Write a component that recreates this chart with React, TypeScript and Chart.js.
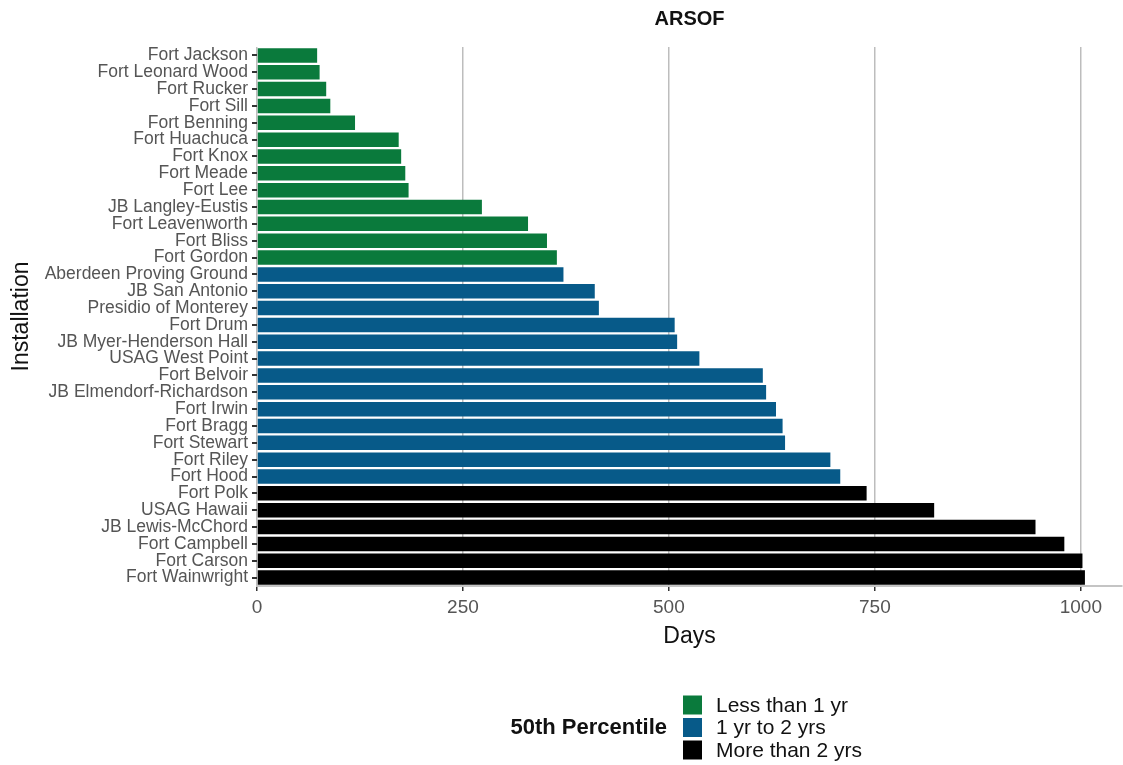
import React, { useEffect, useRef } from "react";
import { Chart, registerables } from "chart.js";

Chart.register(...registerables);

const categories = [
  "Fort Jackson", "Fort Leonard Wood", "Fort Rucker", "Fort Sill", "Fort Benning",
  "Fort Huachuca", "Fort Knox", "Fort Meade", "Fort Lee", "JB Langley-Eustis",
  "Fort Leavenworth", "Fort Bliss", "Fort Gordon", "Aberdeen Proving Ground",
  "JB San Antonio", "Presidio of Monterey", "Fort Drum", "JB Myer-Henderson Hall",
  "USAG West Point", "Fort Belvoir", "JB Elmendorf-Richardson", "Fort Irwin",
  "Fort Bragg", "Fort Stewart", "Fort Riley", "Fort Hood", "Fort Polk",
  "USAG Hawaii", "JB Lewis-McChord", "Fort Campbell", "Fort Carson", "Fort Wainwright",
];

const days = [
  73, 76, 84, 89, 119, 172, 175, 180, 184, 273, 329, 352, 364, 372,
  410, 415, 507, 510, 537, 614, 618, 630, 638, 641, 696, 708, 740,
  822, 945, 980, 1002, 1005,
];

// 0 = Less than 1 yr, 1 = 1 yr to 2 yrs, 2 = More than 2 yrs
const groups = [
  0, 0, 0, 0, 0, 0, 0, 0, 0, 0, 0, 0, 0, 1,
  1, 1, 1, 1, 1, 1, 1, 1, 1, 1, 1, 1, 2,
  2, 2, 2, 2, 2,
];

const groupLabels = ["Less than 1 yr", "1 yr to 2 yrs", "More than 2 yrs"];
const groupColors = ["#0a7a3c", "#075a89", "#000000"];
const xTicks = [0, 250, 500, 750, 1000];

const chartTitle = "ARSOF";
const xTitle = "Days";
const yTitle = "Installation";
const legendTitle = "50th Percentile";

const FONT = "'Liberation Sans', Arial, sans-serif";

const decorPlugin = {
  id: "decor",
  afterDraw(chart: any) {
    const ctx = chart.ctx;
    const area = chart.chartArea;
    ctx.save();
    // title centred over the panel
    ctx.textBaseline = "middle";
    ctx.textAlign = "center";
    ctx.fillStyle = "#111";
    ctx.font = `bold 20px ${FONT}`;
    ctx.fillText(chartTitle, (area.left + area.right) / 2, 19);
    // legend
    ctx.font = `bold 22px ${FONT}`;
    ctx.textAlign = "right";
    ctx.fillText(legendTitle, 667, 728);
    ctx.textAlign = "left";
    ctx.font = `21px ${FONT}`;
    groupLabels.forEach((lab, i) => {
      const cy = 705 + i * 22.5;
      ctx.fillStyle = groupColors[i];
      ctx.fillRect(683, cy - 9.5, 19, 19);
      ctx.fillStyle = "#111";
      ctx.fillText(lab, 716, cy + 1);
    });
    ctx.restore();
  },
};

export default function App() {
  const ref = useRef<HTMLCanvasElement | null>(null);

  useEffect(() => {
    document.body.style.margin = "0";
    const canvas = ref.current;
    if (!canvas) return;
    const datasets = groupLabels.map((lab, g) => ({
      label: lab,
      data: days.map((v, i) => (groups[i] === g ? v : null)),
      backgroundColor: groupColors[g],
      borderWidth: 0,
      barPercentage: 0.86,
      categoryPercentage: 1,
      grouped: false,
    }));

    const chart = new Chart(canvas, {
      type: "bar",
      data: { labels: categories, datasets },
      plugins: [decorPlugin],
      options: {
        indexAxis: "y",
        animation: false,
        responsive: false,
        maintainAspectRatio: false,
        layout: { padding: { top: 47, left: 0, right: 1, bottom: 99 } },
        plugins: {
          legend: { display: false },
          tooltip: { enabled: false },
          title: { display: false },
        },
        scales: {
          x: {
            type: "linear",
            min: 0,
            max: 1050,
            afterBuildTicks: (scale: any) => {
              scale.ticks = xTicks.map((v) => ({ value: v }));
            },
            afterFit: (scale: any) => {
              scale.height = 80;
            },
            grid: {
              color: "#bdbdbd",
              lineWidth: 1.5,
              tickColor: "#333",
              tickLength: 5,
            },
            border: { display: true, color: "#c4c4c4", width: 2 },
            ticks: {
              color: "#555",
              font: { family: FONT, size: 19 },
              padding: 5,
              autoSkip: false,
              maxRotation: 0,
              callback: (v: any) => String(v),
            },
            title: {
              display: true,
              text: xTitle,
              color: "#111",
              font: { family: FONT, size: 23 },
              padding: { top: 0, bottom: 16 },
            },
          },
          y: {
            type: "category",
            offset: true,
            afterFit: (scale: any) => {
              scale.width = 257;
            },
            grid: {
              drawOnChartArea: false,
              offset: false,
              tickColor: "#333",
              tickLength: 5,
              lineWidth: 2,
            },
            border: { display: false },
            ticks: {
              color: "#555",
              font: { family: FONT, size: 17.5 },
              padding: 4,
              autoSkip: false,
            },
            title: {
              display: true,
              text: yTitle,
              color: "#111",
              font: { family: FONT, size: 23 },
              padding: { top: 8, bottom: 0 },
            },
          },
        },
      },
    } as any);
    return () => chart.destroy();
  }, []);

  return (
    <div style={{ width: 1123, height: 765 }}>
      <canvas ref={ref} width={1123} height={765} style={{ display: "block" }} />
    </div>
  );
}
